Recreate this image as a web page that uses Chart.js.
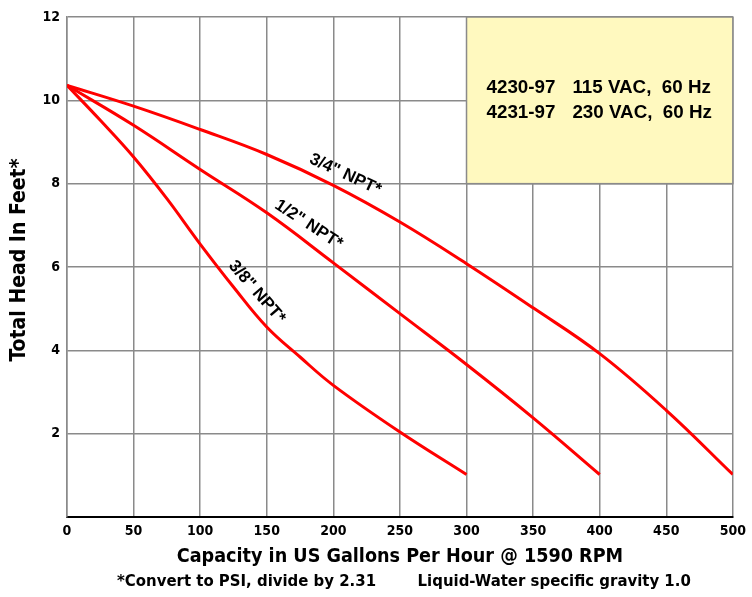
<!DOCTYPE html>
<html>
<head>
<meta charset="utf-8">
<script src="https://cdn.jsdelivr.net/npm/chart.js@4"></script>
<style>
  html, body { margin: 0; padding: 0; background: #fff; }
  #wrap { width: 752px; height: 597px; position: relative; }
</style>
</head>
<body>
<div id="wrap"><canvas id="pumpChart"></canvas></div>
<script>
// capacity (GPH) sample points and head (ft)
const flow34 = [0, 50, 100, 150, 200, 250, 300, 350, 400, 450, 500];
const head34 = [10.36, 9.86, 9.3, 8.7, 7.96, 7.08, 6.08, 5.02, 3.92, 2.56, 1.02];

const flow12 = [0, 50, 100, 150, 200, 250, 300, 350, 400];
const head12 = [10.36, 9.4, 8.34, 7.3, 6.1, 4.88, 3.66, 2.38, 1.02];

const flow38 = [0, 25, 50, 75, 100, 125, 150, 175, 200, 250, 300];
const head38 = [10.36, 9.52, 8.64, 7.64, 6.55, 5.52, 4.56, 3.84, 3.16, 2.04, 1.02];

const curveLabels = ['3/4" NPT*', '1/2" NPT*', '3/8" NPT*'];
const boxModels = ['4230-97', '4231-97'];
const boxRatings = ['115 VAC,  60 Hz', '230 VAC,  60 Hz'];
const yTitle = 'Total Head In Feet*';
const footNote = '*Convert to PSI, divide by 2.31        Liquid-Water specific gravity 1.0';

const narrow = "'Liberation Sans Narrow', 'DejaVu Sans Condensed', sans-serif";
const arial = "'Liberation Sans', Arial, sans-serif";
const gridGray = '#8a8a8a';

function toPoints(xs, ys) {
    return xs.map((x, i) => ({ x: x, y: ys[i] }));
}

// yellow model box, rotated curve labels, y title and the foot note
const decorPlugin = {
    id: 'decor',
    beforeDatasetsDraw(chart) {
        const ctx = chart.ctx;
        const xs = chart.scales.x;
        const ys = chart.scales.y;
        const l = xs.getPixelForValue(300), r = xs.getPixelForValue(500);
        const t = ys.getPixelForValue(12), b = ys.getPixelForValue(8);
        ctx.save();
        ctx.fillStyle = '#fff9bf';
        ctx.fillRect(l, t, r - l, b - t);
        ctx.strokeStyle = gridGray;
        ctx.lineWidth = 1.5;
        ctx.strokeRect(l, t, r - l, b - t);

        ctx.fillStyle = '#000';
        ctx.font = 'bold 18.8px ' + arial;
        ctx.textBaseline = 'middle';
        ctx.textAlign = 'left';
        const rowY = [10.29, 9.71];
        boxModels.forEach((m, i) => {
            const py = ys.getPixelForValue(rowY[i]);
            ctx.fillText(m, xs.getPixelForValue(315), py);
            ctx.fillText(boxRatings[i], xs.getPixelForValue(379.5), py);
        });
        ctx.restore();
    },
    afterDatasetsDraw(chart) {
        const ctx = chart.ctx;
        const xs = chart.scales.x;
        const ys = chart.scales.y;
        const spots = [
            { x: 209, y: 8.22, a: 25 },
            { x: 181.5, y: 7.02, a: 33 },
            { x: 142.5, y: 5.4, a: 49 }
        ];
        ctx.save();
        ctx.fillStyle = '#000';
        ctx.font = 'bold 17px ' + arial;
        ctx.textAlign = 'center';
        ctx.textBaseline = 'middle';
        spots.forEach((s, i) => {
            ctx.save();
            ctx.translate(xs.getPixelForValue(s.x), ys.getPixelForValue(s.y));
            ctx.rotate(s.a * Math.PI / 180);
            ctx.fillText(curveLabels[i], 0, 0);
            ctx.restore();
        });

        ctx.save();
        ctx.font = 'bold 21px ' + narrow;
        ctx.translate(20, 260);
        ctx.rotate(-Math.PI / 2);
        ctx.fillText(yTitle, 0, 0);
        ctx.restore();

        ctx.font = 'bold 16.6px ' + narrow;
        ctx.fillText(footNote, (chart.chartArea.left + chart.chartArea.right) / 2 + 4, 582);
        ctx.restore();
    }
};

function lineSet(label, xs, ys) {
    return {
        label: label,
        data: toPoints(xs, ys),
        borderColor: '#ff0000',
        borderWidth: 3,
        pointRadius: 0,
        fill: false,
        tension: 0.4
    };
}

function createChart() {
    const ctx = document.getElementById('pumpChart').getContext('2d');
    new Chart(ctx, {
        type: 'line',
        data: {
            datasets: [
                lineSet(curveLabels[0], flow34, head34),
                lineSet(curveLabels[1], flow12, head12),
                lineSet(curveLabels[2], flow38, head38)
            ]
        },
        options: {
            responsive: true,
            maintainAspectRatio: false,
            animation: false,
            layout: { padding: { top: 17, right: 18, bottom: 0, left: 0 } },
            plugins: {
                legend: { display: false },
                tooltip: { enabled: false }
            },
            scales: {
                x: {
                    type: 'linear',
                    min: 0,
                    max: 500,
                    afterFit(scale) { scale.height = 80; },
                    ticks: {
                        stepSize: 50,
                        color: '#000',
                        padding: 6,
                        maxRotation: 0,
                        font: { family: narrow, size: 14, weight: 'bold' }
                    },
                    grid: { color: gridGray, lineWidth: 1.5, drawTicks: false },
                    border: { color: '#000', width: 2 },
                    title: {
                        display: true,
                        text: 'Capacity in US Gallons Per Hour @ 1590 RPM',
                        color: '#000',
                        font: { family: narrow, size: 19.6, weight: 'bold' },
                        padding: { top: 0, bottom: 28 }
                    }
                },
                y: {
                    min: 0,
                    max: 12,
                    afterFit(scale) { scale.width = 67; },
                    ticks: {
                        stepSize: 2,
                        color: '#000',
                        padding: 7,
                        font: { family: narrow, size: 14, weight: 'bold' },
                        callback: v => (v === 0 ? '' : v)
                    },
                    grid: {
                        color: c => (c.tick && c.tick.value === 0 ? 'rgba(0,0,0,0)' : gridGray),
                        lineWidth: 1.5,
                        drawTicks: false
                    },
                    border: { color: gridGray, width: 1.5 }
                }
            }
        },
        plugins: [decorPlugin]
    });
}

document.addEventListener('DOMContentLoaded', createChart);
</script>
</body>
</html>
